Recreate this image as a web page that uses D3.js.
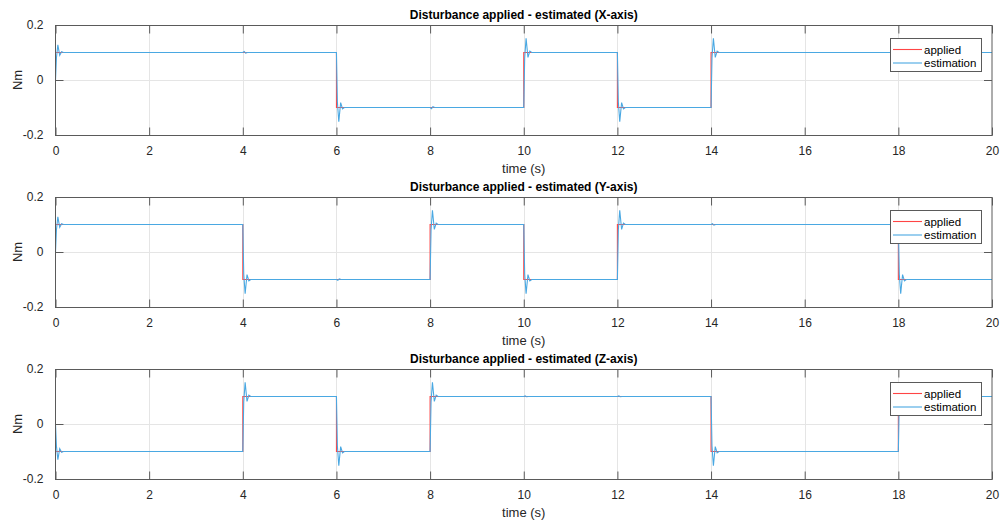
<!DOCTYPE html>
<html><head><meta charset="utf-8">
<script src="https://cdn.jsdelivr.net/npm/d3@7"></script>
<style>body{margin:0;background:#fff}svg{display:block}</style>
</head><body><svg id="c" width="1000" height="522"></svg>
<script>
const titles = ["Disturbance applied - estimated (X-axis)","Disturbance applied - estimated (Y-axis)","Disturbance applied - estimated (Z-axis)"];
const xTicks = [0,2,4,6,8,10,12,14,16,18,20];
const yTicks = [-0.2,0,0.2];
const yTickLabels = ["-0.2","0","0.2"];
const legendLabels = ["applied","estimation"];

// applied disturbance: [time, value] breakpoints (step, held until next)
const appliedX = [[0,0.1],[6,-0.1],[10,0.1],[12,-0.1],[14,0.1],[20,0.1]];
const appliedY = [[0,0.1],[4,-0.1],[8,0.1],[10,-0.1],[12,0.1],[18,-0.1],[20,-0.1]];
const appliedZ = [[0,-0.1],[4,0.1],[6,-0.1],[8,0.1],[14,-0.1],[18,0.1],[20,0.1]];

// estimated disturbance: [time, value] points
const estX = [
 [0,0],[0.02,0.08],[0.05,0.128],[0.09,0.09],[0.13,0.103],[0.17,0.1],
 [4.0,0.1],[4.03,0.104],[4.06,0.098],[4.1,0.1],
 [6.0,0.1],[6.02,-0.08],[6.05,-0.152],[6.09,-0.082],[6.13,-0.105],[6.17,-0.1],
 [8.0,-0.1],[8.03,-0.104],[8.06,-0.097],[8.1,-0.1],
 [10.0,-0.1],[10.02,0.08],[10.05,0.152],[10.09,0.082],[10.13,0.105],[10.17,0.1],
 [12.0,0.1],[12.02,-0.08],[12.05,-0.152],[12.09,-0.082],[12.13,-0.105],[12.17,-0.1],
 [14.0,-0.1],[14.02,0.08],[14.05,0.152],[14.09,0.082],[14.13,0.105],[14.17,0.1],
 [20,0.1]];
const estY = [
 [0,0],[0.02,0.08],[0.05,0.128],[0.09,0.09],[0.13,0.103],[0.17,0.1],
 [4.0,0.1],[4.02,-0.08],[4.05,-0.152],[4.09,-0.082],[4.13,-0.105],[4.17,-0.1],
 [6.0,-0.1],[6.03,-0.103],[6.06,-0.098],[6.1,-0.1],
 [8.0,-0.1],[8.02,0.08],[8.05,0.152],[8.09,0.082],[8.13,0.105],[8.17,0.1],
 [10.0,0.1],[10.02,-0.08],[10.05,-0.152],[10.09,-0.082],[10.13,-0.105],[10.17,-0.1],
 [12.0,-0.1],[12.02,0.08],[12.05,0.152],[12.09,0.082],[12.13,0.105],[12.17,0.1],
 [14.0,0.1],[14.03,0.103],[14.06,0.098],[14.1,0.1],
 [18.0,0.1],[18.02,-0.08],[18.05,-0.152],[18.09,-0.082],[18.13,-0.105],[18.17,-0.1],
 [20,-0.1]];
const estZ = [
 [0,0],[0.02,-0.08],[0.05,-0.13],[0.09,-0.09],[0.13,-0.103],[0.17,-0.1],
 [4.0,-0.1],[4.02,0.08],[4.05,0.152],[4.09,0.082],[4.13,0.105],[4.17,0.1],
 [6.0,0.1],[6.02,-0.08],[6.05,-0.152],[6.09,-0.082],[6.13,-0.105],[6.17,-0.1],
 [8.0,-0.1],[8.02,0.08],[8.05,0.152],[8.09,0.082],[8.13,0.105],[8.17,0.1],
 [10.0,0.1],[10.03,0.102],[10.06,0.099],[10.1,0.1],
 [12.0,0.1],[12.03,0.102],[12.06,0.099],[12.1,0.1],
 [14.0,0.1],[14.02,-0.08],[14.05,-0.152],[14.09,-0.082],[14.13,-0.105],[14.17,-0.1],
 [18.0,-0.1],[18.02,0.08],[18.05,0.152],[18.09,0.082],[18.13,0.105],[18.17,0.1],
 [20,0.1]];

const appliedSeries = [appliedX, appliedY, appliedZ];
const estSeries = [estX, estY, estZ];

const colApplied = "#ff4545", colEst = "#4aa8e2";
const svg = d3.select("#c");
const left = 55.5, right = 992, ph = 110;
const tops = [25, 197, 369];
const x = d3.scaleLinear().domain([0,20]).range([left,right]);
const font = "'Liberation Sans', Arial, sans-serif";

tops.forEach((top, i) => {
  const y = d3.scaleLinear().domain([-0.2,0.2]).range([top+ph, top]);
  const g = svg.append("g");
  g.append("rect").attr("x",left).attr("y",top).attr("width",right-left).attr("height",ph).attr("fill","#fff");
  // grid
  g.selectAll(".gx").data(xTicks.slice(1,-1)).join("line")
    .attr("x1",d=>Math.round(x(d))+0.5).attr("x2",d=>Math.round(x(d))+0.5).attr("y1",top).attr("y2",top+ph)
    .attr("stroke","#e5e5e5").attr("stroke-width",1);
  g.selectAll(".gy").data(yTicks.slice(1,-1)).join("line")
    .attr("y1",d=>Math.round(y(d))+0.5).attr("y2",d=>Math.round(y(d))+0.5).attr("x1",left).attr("x2",right)
    .attr("stroke","#e5e5e5").attr("stroke-width",1);
  // data
  const stepLine = d3.line().x(d=>x(d[0])).y(d=>y(d[1])).curve(d3.curveStepAfter);
  const line = d3.line().x(d=>x(d[0])).y(d=>y(d[1]));
  g.append("path").attr("d",stepLine(appliedSeries[i])).attr("fill","none").attr("stroke",colApplied).attr("stroke-width",1.1);
  g.append("path").attr("d",line(estSeries[i])).attr("fill","none").attr("stroke",colEst).attr("stroke-width",1.1);
  // box
  g.append("rect").attr("x",left).attr("y",top+0.5).attr("width",right-left).attr("height",ph)
    .attr("fill","none").attr("stroke","#5a5a5a").attr("stroke-width",1);
  // axes with inward ticks
  const xb = d3.axisBottom(x).tickValues(xTicks).tickSize(-8).tickSizeOuter(0).tickPadding(11).tickFormat(d3.format("d"));
  const ax = g.append("g").attr("transform",`translate(0,${top+ph+0.5})`).call(xb);
  const xt = d3.axisTop(x).tickValues(xTicks).tickSize(-8).tickSizeOuter(0).tickFormat("");
  const axt = g.append("g").attr("transform",`translate(0,${top+0.5})`).call(xt);
  const yl = d3.axisLeft(y).tickValues(yTicks).tickSize(-8).tickSizeOuter(0).tickPadding(12).tickFormat((d,k)=>yTickLabels[k]);
  const ayl = g.append("g").attr("transform",`translate(${left},0)`).call(yl);
  const yr = d3.axisRight(y).tickValues(yTicks).tickSize(-8).tickSizeOuter(0).tickFormat("");
  const ayr = g.append("g").attr("transform",`translate(${right},0)`).call(yr);
  [ax,axt,ayl,ayr].forEach(a=>{
    a.select(".domain").remove();
    a.selectAll(".tick line").attr("stroke","#5a5a5a");
    a.selectAll("text").attr("fill","#262626").style("font-family",font).style("font-size","12px");
  });
  // title
  svg.append("text").attr("x",(left+right)/2).attr("y",top-6).attr("text-anchor","middle")
    .style("font-family",font).style("font-size","12px").style("font-weight","bold").attr("fill","#000").text(titles[i]);
  // x label
  svg.append("text").attr("x",(left+right)/2).attr("y",top+ph+38).attr("text-anchor","middle")
    .style("font-family",font).style("font-size","13px").attr("fill","#262626").text("time (s)");
  // y label
  svg.append("text").attr("transform",`translate(22,${top+ph/2}) rotate(-90)`).attr("text-anchor","middle")
    .style("font-family",font).style("font-size","13px").attr("fill","#262626").text("Nm");
  // legend
  const lx = 890, ly = top+13, lw = 91, lh = 33;
  const lg = svg.append("g");
  lg.append("rect").attr("x",lx+0.5).attr("y",ly+0.5).attr("width",lw).attr("height",lh).attr("fill","#fff").attr("stroke","#5a5a5a");
  [colApplied,colEst].forEach((c,k)=>{
    const yy = ly + 11.5 + k*13.5;
    lg.append("line").attr("x1",lx+3).attr("x2",lx+32).attr("y1",yy).attr("y2",yy).attr("stroke",c).attr("stroke-width",1.1);
    lg.append("text").attr("x",lx+34).attr("y",yy+4).style("font-family",font).style("font-size","11.5px").attr("fill","#000").text(legendLabels[k]);
  });
});
</script></body></html>
